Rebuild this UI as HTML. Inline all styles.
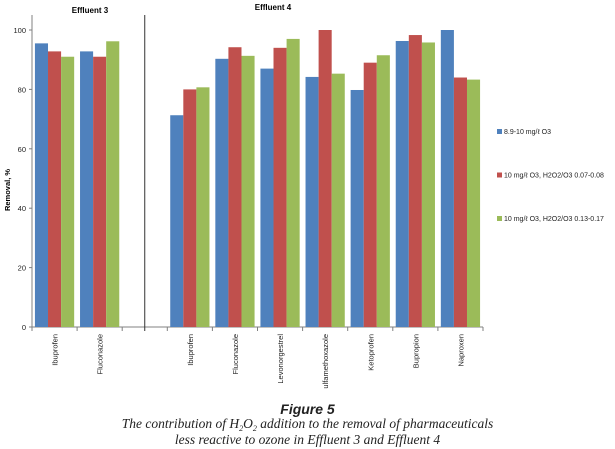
<!DOCTYPE html>
<html><head><meta charset="utf-8"><style>
body{margin:0;background:#fff;width:615px;height:449px;overflow:hidden;font-family:"Liberation Sans",sans-serif}
svg{position:absolute;left:0;top:0}
.cap{position:absolute;left:0;width:615px;text-align:center;font-family:"Liberation Serif",serif;font-style:italic;color:#222}
sub{font-size:8px;line-height:0;vertical-align:-3px}
</style></head><body>
<svg width="615" height="449" id="chart"></svg>
<div class="cap" style="top:401px;font-family:'Liberation Sans',sans-serif;font-weight:bold;font-size:14px">Figure 5</div>
<div class="cap" style="top:416px;font-size:13.5px;line-height:16px">The contribution of H<sub>2</sub>O<sub>2</sub> addition to the removal of pharmaceuticals<br>less reactive to ozone in Effluent 3 and Effluent 4</div>
<script>
const categories=["Ibuprofen","Fluconazole","","Ibuprofen","Fluconazole","Levonorgestrel","ulfamethoxazole","Ketoprofen","Bupropion","Naproxen"];
const s1=[95.5,92.8,null,71.3,90.3,87,84.2,79.8,96.3,100];
const s2=[92.8,91,null,80,94.2,94,100,89,98.3,84];
const s3=[91,96.2,null,80.7,91.3,97,85.3,91.5,95.8,83.3];
const yTicks=[0,20,40,60,80,100];
const seriesNames=["8.9-10 mg/ℓ O3","10 mg/ℓ O3, H2O2/O3 0.07-0.08","10 mg/ℓ O3, H2O2/O3 0.13-0.17"];
const colors=["#4f81bd","#c0504d","#9bbb59"];
const svg=document.getElementById('chart');const NS="http://www.w3.org/2000/svg";
const x0=32,x1=483,y0=327,yTop=30;
const slot=(x1-x0)/categories.length;
const y=v=>y0-(v/100)*(y0-yTop);
const xs=i=>x0+i*slot;
function mk(t,a,p){const e=document.createElementNS(NS,t);for(const k in a)e.setAttribute(k,a[k]);(p||svg).appendChild(e);return e;}
let ax=mk('line',{x1:x0,y1:15,x2:x0,y2:y0,stroke:'#808080'});

let bx=mk('line',{x1:x0-3,y1:y0,x2:x1,y2:y0,stroke:'#808080'});

yTicks.forEach(v=>{mk('line',{x1:x0-3,y1:y(v),x2:x0,y2:y(v),stroke:'#808080'});
 const t=mk('text',{x:x0-6,y:y(v)+3,'text-anchor':'end','font-size':'7.5',fill:'#222'});t.textContent=v;
 });
for(let i=0;i<=categories.length;i++)mk('line',{x1:xs(i),y1:y0,x2:xs(i),y2:y0+4,stroke:'#808080'});
const series=[s1,s2,s3];
const bw=slot*0.29,gap=(slot-3*bw)/2;
categories.forEach((c,i)=>{
 series.forEach((s,k)=>{if(s[i]==null)return;
  const r=mk('rect',{x:xs(i)+gap+k*bw,y:y(s[i]),width:bw,height:y0-y(s[i]),fill:colors[k]});
  });
 if(c){const cx=xs(i)+slot/2+3;const t=mk('text',{x:0,y:0,transform:`translate(${cx},334) rotate(-90)`,'text-anchor':'end','font-size':'7.5',fill:'#222'});t.textContent=c;
 }
});
const sep=mk('line',{x1:xs(2.5),y1:15,x2:xs(2.5),y2:y0+4,stroke:'#333'});

let e3=mk('text',{x:90,y:13,'text-anchor':'middle','font-size':'8','font-weight':'bold'});e3.textContent='Effluent 3';

let e4=mk('text',{x:273,y:10,'text-anchor':'middle','font-size':'8','font-weight':'bold'});e4.textContent='Effluent 4';

let yt=mk('text',{transform:'translate(10,190) rotate(-90)','text-anchor':'middle','font-size':'7.5','font-weight':'bold'});yt.textContent='Removal, %';

seriesNames.forEach((n,k)=>{const ly=133+k*43.5;
 const g=mk('g',{});
 mk('rect',{x:497,y:ly-4,width:5,height:5,fill:colors[k]},g);
 const t=mk('text',{x:504,y:ly+1,'font-size':'7',fill:'#222'},g);t.textContent=n;});
</script>
</body></html>
